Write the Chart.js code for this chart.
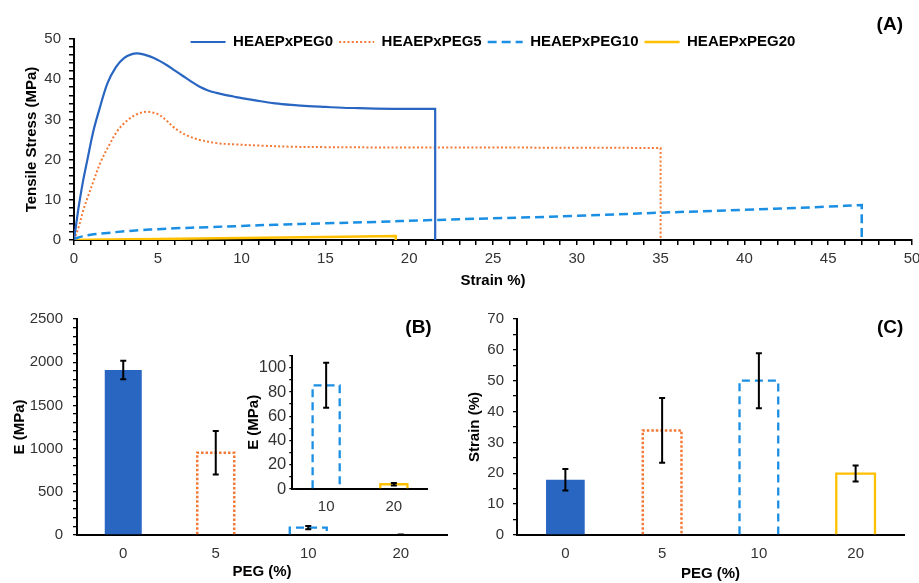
<!DOCTYPE html>
<html><head><meta charset="utf-8">
<script src="https://cdn.jsdelivr.net/npm/chart.js@4.4.1/dist/chart.umd.min.js"></script>
<style>
html,body{margin:0;padding:0;background:#fff;width:919px;height:583px;overflow:hidden;}
#wrap{position:relative;width:919px;height:583px;overflow:hidden;background:#fff;}
canvas{position:absolute;}
#cA{left:0;top:0;}
#cB{left:0;top:290px;}
#cC{left:460px;top:290px;}
#cI{left:230px;top:335px;}
</style></head><body><div id="wrap">
<canvas id="cA" width="930" height="295"></canvas>
<canvas id="cB" width="460" height="293"></canvas>
<canvas id="cC" width="470" height="293"></canvas>
<canvas id="cI" width="205" height="185"></canvas>
</div>
<script>
// ---------- Panel A: stress-strain curves ----------
const seriesNames = ['HEAEPxPEG0', 'HEAEPxPEG5', 'HEAEPxPEG10', 'HEAEPxPEG20'];
const peg0Strain = [0, 0.15, 0.3, 0.55, 0.8, 1.15, 1.5, 2.0, 2.5, 3.0, 3.5, 3.8, 4.2, 4.8, 5.5, 6.0, 6.5, 7.0, 7.5, 8.0, 8.5, 9.0, 9.5, 10, 11, 12, 13, 14, 15, 16, 17, 18, 20, 21.55, 21.55, 21.55];
const peg0Stress = [0, 4.5, 8.8, 14.9, 20, 27, 32.3, 39, 43, 45.3, 46.3, 46.4, 46.1, 45.2, 43.6, 42.2, 40.8, 39.4, 38.1, 37.2, 36.6, 36.1, 35.7, 35.3, 34.6, 34.0, 33.6, 33.3, 33.1, 32.9, 32.8, 32.7, 32.6, 32.6, 32.6, 0];
const peg5Strain = [0, 0.3, 0.56, 0.85, 1.15, 1.6, 2.15, 2.6, 3.14, 3.7, 4.3, 4.8, 5.1, 5.5, 5.9, 6.3, 6.7, 7.1, 7.5, 8.5, 9.5, 11, 13, 15, 20, 25, 30, 35, 35, 35];
const peg5Stress = [0, 3.5, 7.5, 11, 14.5, 19.5, 24, 27.2, 29.6, 31.2, 31.9, 31.6, 31.1, 29.8, 28.2, 27.0, 26.1, 25.4, 24.9, 24.1, 23.8, 23.5, 23.2, 23.1, 23.0, 23.0, 22.95, 22.9, 22.9, 0];
const peg10Strain = [0, 0.5, 1, 2, 3, 4, 5, 6, 8, 10, 12, 15, 18, 21, 25, 30, 35, 40, 45, 47, 47, 47];
const peg10Stress = [0.3, 0.9, 1.3, 1.75, 2.15, 2.45, 2.7, 2.9, 3.2, 3.5, 3.8, 4.15, 4.5, 4.9, 5.4, 6.0, 6.8, 7.5, 8.3, 8.7, 8.7, 0];
const peg20Strain = [0, 2, 5, 10, 15, 19.2, 19.2, 19.2];
const peg20Stress = [0, 0.1, 0.25, 0.5, 0.75, 1.0, 1.0, 0];

// ---------- Panel B: Young's modulus ----------
const pegLevels = ['0', '5', '10', '20'];
const modulusMean = [1910, 953, 85.5, 3.9];
const modulusErr = [106, 252, 18.6, 1.0];
const insetLevels = ['10', '20'];
const insetModulus = [85.5, 3.9];
const insetModulusErr = [18.6, 1.0];

// ---------- Panel C: strain at break ----------
const breakStrainMean = [17.9, 33.9, 50.0, 19.9];
const breakStrainErr = [3.5, 10.5, 8.9, 2.6];

const FONT = '"Liberation Sans", Arial, Helvetica, sans-serif';
Chart.defaults.font.family = FONT;
Chart.defaults.font.size = 15;
Chart.defaults.color = '#333';
Chart.defaults.animation = false;

const C_BLUE = '#2966C2';
const C_ORANGE = '#F27A36';
const C_SKY = '#1A8FE3';
const C_GOLD = '#FFC000';
const NONE = 'rgba(255,255,255,0)';

const pts = (xs, ys) => xs.map((x, i) => ({x: x, y: ys[i]}));

const panelLabel = {
  id: 'panelLabel',
  afterDraw(chart, args, opts) {
    if (!opts || !opts.text) return;
    const ctx = chart.ctx, ca = chart.chartArea;
    ctx.save();
    ctx.font = 'bold 19px ' + FONT;
    ctx.fillStyle = '#000';
    ctx.textAlign = 'right';
    ctx.textBaseline = 'middle';
    ctx.fillText(opts.text, ca.right + opts.dx, ca.top + opts.dy);
    ctx.restore();
  }
};

const legendShift = {
  id: 'legendShift',
  afterLayout(chart, args, opts) {
    const lg = chart.legend;
    if (!lg || !opts || typeof opts.top !== 'number') return;
    const ca = chart.chartArea;
    const h = lg.height;
    lg.left = ca.left; lg.right = ca.right; lg.width = ca.right - ca.left;
    lg.top = ca.top + opts.top; lg.bottom = lg.top + h;
  }
};

const barDecor = {
  id: 'barDecor',
  afterDatasetsDraw(chart) {
    const ds = chart.data.datasets[0];
    if (!ds || !ds.outlines) return;
    const ctx = chart.ctx;
    const meta = chart.getDatasetMeta(0);
    const yScale = chart.scales.y;
    ctx.save();
    meta.data.forEach((bar, i) => {
      const p = bar.getProps(['x', 'y', 'base', 'width'], true);
      const left = p.x - p.width / 2, right = p.x + p.width / 2;
      const o = ds.outlines[i];
      if (o && Math.abs(p.base - p.y) > 1.5) {
        ctx.beginPath();
        ctx.lineWidth = o.width;
        ctx.strokeStyle = o.color;
        ctx.setLineDash(o.dash);
        ctx.lineCap = 'butt';
        ctx.lineJoin = 'miter';
        ctx.moveTo(left, p.base);
        ctx.lineTo(left, p.y);
        ctx.lineTo(right, p.y);
        ctx.lineTo(right, p.base);
        ctx.stroke();
      }
      const mean = ds.data[i], err = ds.errors[i];
      const yt = yScale.getPixelForValue(mean + err);
      const yb = yScale.getPixelForValue(mean - err);
      ctx.setLineDash([]);
      ctx.strokeStyle = '#000';
      ctx.lineWidth = 2;
      ctx.beginPath();
      ctx.moveTo(p.x, yt); ctx.lineTo(p.x, yb);
      ctx.moveTo(p.x - 3, yt); ctx.lineTo(p.x + 3, yt);
      ctx.moveTo(p.x - 3, yb); ctx.lineTo(p.x + 3, yb);
      ctx.stroke();
    });
    ctx.restore();
  }
};

const outlineOrange = {color: C_ORANGE, width: 2.5, dash: [2.5, 2]};
const outlineSky = {color: C_SKY, width: 2.3, dash: [8, 5]};
const outlineGold = {color: C_GOLD, width: 2.3, dash: []};

const axisTitle = (text, pad) => ({display: true, text: text, color: '#000', font: {weight: 'bold', size: 15}, padding: pad});

// ---------- Chart A ----------
new Chart(document.getElementById('cA'), {
  type: 'line',
  data: {
    datasets: [
      {label: seriesNames[0], data: pts(peg0Strain, peg0Stress), borderColor: C_BLUE, backgroundColor: C_BLUE, borderWidth: 2.2, borderDash: []},
      {label: seriesNames[1], data: pts(peg5Strain, peg5Stress), borderColor: C_ORANGE, backgroundColor: C_ORANGE, borderWidth: 2, borderDash: [2, 2.2]},
      {label: seriesNames[2], data: pts(peg10Strain, peg10Stress), borderColor: C_SKY, backgroundColor: C_SKY, borderWidth: 2.5, borderDash: [9, 5]},
      {label: seriesNames[3], data: pts(peg20Strain, peg20Stress), borderColor: C_GOLD, backgroundColor: C_GOLD, borderWidth: 2.5, borderDash: []}
    ]
  },
  options: {
    responsive: false,
    animation: false,
    layout: {padding: {top: 8, right: 18, bottom: 5, left: 0}},
    elements: {point: {radius: 0, hoverRadius: 0}, line: {tension: 0.35, fill: false}},
    plugins: {
      tooltip: {enabled: false},
      legend: {
        display: true, position: 'top', align: 'center',
        labels: {
          usePointStyle: true, pointStyle: 'line', pointStyleWidth: 35, padding: 6,
          color: '#000', font: {weight: 'bold', size: 15},
          generateLabels: (chart) => chart.data.datasets.map((d, i) => ({
            text: d.label, strokeStyle: d.borderColor, fillStyle: d.borderColor,
            lineWidth: d.borderWidth, lineDash: d.borderDash, lineCap: 'butt',
            pointStyle: 'line', hidden: false, datasetIndex: i, fontColor: '#000'
          }))
        }
      },
      legendShift: {top: -10.5},
      panelLabel: {text: '(A)', dx: -9, dy: -14}
    },
    scales: {
      x: {
        type: 'linear', min: 0, max: 50,
        ticks: {stepSize: 1, autoSkip: false, maxRotation: 0, padding: 5, color: '#333', font: {size: 15},
          callback: (v) => (v % 5 === 0 ? String(v) : '')},
        grid: {display: true, drawOnChartArea: false, drawTicks: true, tickLength: 5, color: '#000', lineWidth: 1.5},
        border: {display: true, color: '#000', width: 2},
        title: axisTitle('Strain %)', {top: 0, bottom: 0}),
        afterFit: (s) => { s.height = 50; }
      },
      y: {
        type: 'linear', min: 0, max: 50,
        ticks: {stepSize: 2, autoSkip: false, padding: 8, color: '#333', font: {size: 15},
          callback: (v) => (v % 10 === 0 ? String(v) : '')},
        grid: {display: true, drawOnChartArea: false, drawTicks: true, tickLength: 5, color: '#000', lineWidth: 1.5},
        border: {display: true, color: '#000', width: 2},
        title: axisTitle('Tensile Stress (MPa)', {top: 22.7, bottom: 0}),
        afterFit: (s) => { s.width = 74; }
      }
    }
  },
  plugins: [legendShift, panelLabel]
});

// ---------- Chart B ----------
new Chart(document.getElementById('cB'), {
  type: 'bar',
  data: {
    labels: pegLevels,
    datasets: [{
      label: 'E (MPa)', data: modulusMean, errors: modulusErr,
      outlines: [null, outlineOrange, outlineSky, outlineGold],
      backgroundColor: [C_BLUE, NONE, NONE, NONE], borderWidth: 0,
      barPercentage: 0.4, categoryPercentage: 1
    }]
  },
  options: {
    responsive: false, animation: false,
    layout: {padding: {top: 29, right: 13, bottom: 0, left: 0}},
    plugins: {legend: {display: false}, tooltip: {enabled: false}, panelLabel: {text: '(B)', dx: -15.3, dy: 8.5}},
    scales: {
      x: {
        z: 1,
        ticks: {padding: 10, color: '#333', font: {size: 15}},
        grid: {display: false, drawTicks: false},
        border: {display: true, color: '#000', width: 2},
        title: axisTitle('PEG (%)', {top: 0, bottom: 2.3}),
        afterFit: (s) => { s.height = 48; }
      },
      y: {
        min: 0, max: 2500,
        ticks: {stepSize: 100, autoSkip: false, padding: 10, color: '#333', font: {size: 15},
          callback: (v) => (v % 500 === 0 ? String(v) : '')},
        grid: {display: true, drawOnChartArea: false, drawTicks: true, tickLength: 4, color: '#000', lineWidth: 1.3},
        border: {display: true, color: '#000', width: 2},
        title: axisTitle('E (MPa)', {top: 10.5, bottom: 0}),
        afterFit: (s) => { s.width = 77; }
      }
    }
  },
  plugins: [barDecor, panelLabel]
});

// ---------- Inset of B ----------
new Chart(document.getElementById('cI'), {
  type: 'bar',
  data: {
    labels: insetLevels,
    datasets: [{
      label: 'E (MPa)', data: insetModulus, errors: insetModulusErr,
      outlines: [outlineSky, outlineGold],
      backgroundColor: [NONE, NONE], borderWidth: 0,
      barPercentage: 0.4, categoryPercentage: 1
    }]
  },
  options: {
    responsive: false, animation: false,
    layout: {padding: {top: 20.6, right: 7.3, bottom: 0, left: 0}},
    plugins: {legend: {display: false}, tooltip: {enabled: false}},
    scales: {
      x: {
        z: 1,
        ticks: {padding: 9, color: '#333', font: {size: 15}},
        grid: {display: false, drawTicks: false},
        border: {display: true, color: '#000', width: 2},
        afterFit: (s) => { s.height = 31; }
      },
      y: {
        min: 0, max: 110,
        ticks: {stepSize: 10, autoSkip: false, padding: 3, color: '#333', font: {size: 16.5},
          callback: (v) => (v % 20 === 0 ? String(v) : '')},
        grid: {display: true, drawOnChartArea: false, drawTicks: true, tickLength: 3, color: '#000', lineWidth: 1.3},
        border: {display: true, color: '#000', width: 2},
        title: axisTitle('E (MPa)', {top: 15, bottom: 0}),
        afterFit: (s) => { s.width = 62.3; }
      }
    }
  },
  plugins: [barDecor]
});

// ---------- Chart C ----------
new Chart(document.getElementById('cC'), {
  type: 'bar',
  data: {
    labels: pegLevels,
    datasets: [{
      label: 'Strain (%)', data: breakStrainMean, errors: breakStrainErr,
      outlines: [null, outlineOrange, outlineSky, outlineGold],
      backgroundColor: [C_BLUE, NONE, NONE, NONE], borderWidth: 0,
      barPercentage: 0.4, categoryPercentage: 1
    }]
  },
  options: {
    responsive: false, animation: false,
    layout: {padding: {top: 29, right: 26, bottom: 0, left: 0}},
    plugins: {legend: {display: false}, tooltip: {enabled: false}, panelLabel: {text: '(C)', dx: -0.7, dy: 8.5}},
    scales: {
      x: {
        z: 1,
        ticks: {padding: 10, color: '#333', font: {size: 15}},
        grid: {display: false, drawTicks: false},
        border: {display: true, color: '#000', width: 2},
        title: axisTitle('PEG (%)', {top: 0, bottom: 0}),
        afterFit: (s) => { s.height = 48; }
      },
      y: {
        min: 0, max: 70,
        ticks: {stepSize: 5, autoSkip: false, padding: 9, color: '#333', font: {size: 15},
          callback: (v) => (v % 10 === 0 ? String(v) : '')},
        grid: {display: true, drawOnChartArea: false, drawTicks: true, tickLength: 4, color: '#000', lineWidth: 1.3},
        border: {display: true, color: '#000', width: 2},
        title: axisTitle('Strain (%)', {top: 6, bottom: 0}),
        afterFit: (s) => { s.width = 57; }
      }
    }
  },
  plugins: [barDecor, panelLabel]
});
</script></body></html>
